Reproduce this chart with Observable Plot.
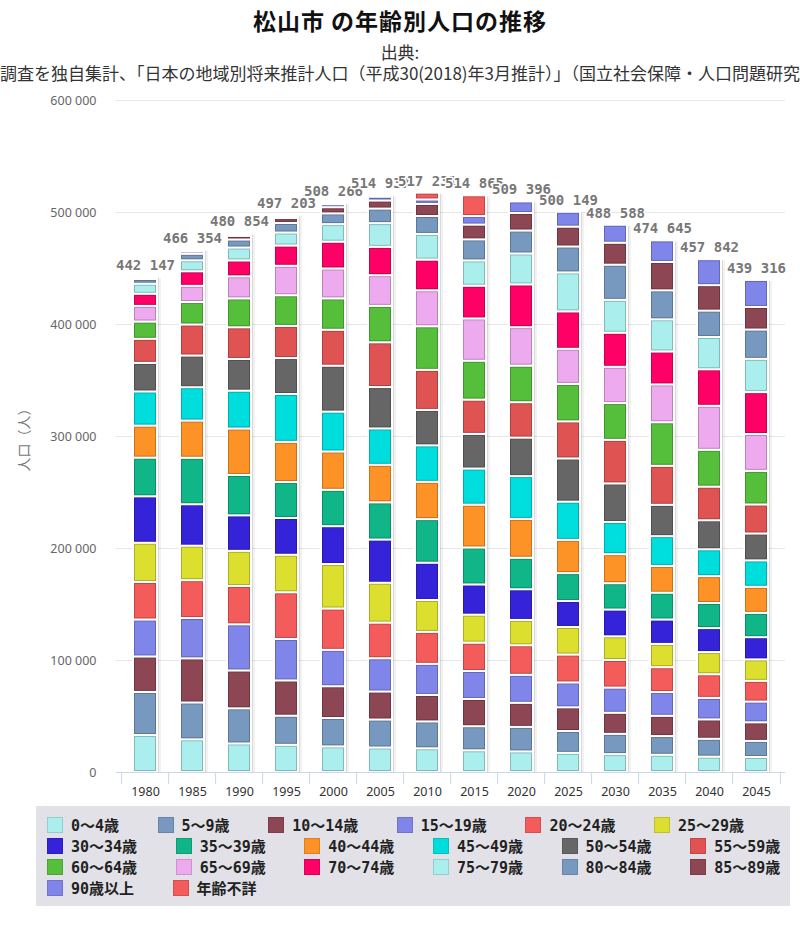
<!DOCTYPE html>
<html>
<head>
<meta charset="utf-8">
<script src="https://cdn.jsdelivr.net/npm/d3@7"></script>
<script src="https://cdn.jsdelivr.net/npm/@observablehq/plot@0.6"></script>
<style>
  body { margin: 0; width: 800px; height: 933px; overflow: hidden; background: #fff; position: relative;
         font-family: "Noto Sans CJK JP", "Noto Sans", sans-serif; }
  #title { position: absolute; left: 0; top: 0; width: 800px; height: 38px; line-height: 40px; text-align: center;
           font-size: 23px; font-weight: bold; color: #111; letter-spacing: 1px; }
  .subline { position: absolute; left: 0; width: 800px; height: 21px; line-height: 21px; display: flex;
             justify-content: center; white-space: nowrap; font-size: 17px; color: #333; overflow: visible; }
  #chart { position: absolute; left: 0; top: 90px; }
  #legend { position: absolute; left: 36px; top: 806px; width: 754px; height: 100px; background: #e1e1e7;
            box-sizing: border-box; padding: 8px 0 0 11px; }
  .row { display: flex; height: 21px; align-items: center; }
  .item { display: flex; align-items: center; margin-right: 38.5px; font-size: 15px; font-weight: bold; color: #222;
          font-family: "DejaVu Sans Mono", "Noto Sans CJK JP", sans-serif; white-space: nowrap; }
  .sw { width: 16px; height: 16px; box-sizing: border-box; border: 1px solid; margin-right: 8px; }
</style>
</head>
<body>
<div id="title">松山市 の年齢別人口の推移</div>
<div class="subline" style="top:41px"><span>出典:</span></div>
<div class="subline" style="top:62px"><span>国勢調査を独自集計、「日本の地域別将来推計人口（平成30(2018)年3月推計）」（国立社会保障・人口問題研究所）</span></div>
<div id="chart"></div>
<div id="legend"></div>
<script>
const years = ["1980","1985","1990","1995","2000","2005","2010","2015","2020","2025","2030","2035","2040","2045"];
const ageGroups = ["0〜4歳","5〜9歳","10〜14歳","15〜19歳","20〜24歳","25〜29歳","30〜34歳","35〜39歳","40〜44歳","45〜49歳",
  "50〜54歳","55〜59歳","60〜64歳","65〜69歳","70〜74歳","75〜79歳","80〜84歳","85〜89歳","90歳以上","年齢不詳"];
const colors = ["#aaeeee","#7798bf","#8d4654","#8085e9","#f45b5b","#dddf2e","#3523d9","#10b588","#fd9226","#00dddd",
  "#666666","#df5353","#55bf3b","#eeaaee","#ff0066","#aaeeee","#7798bf","#8d4654","#8085e9","#f45b5b"];
const totals = [442147,466354,480854,497203,508266,514937,517231,514865,509396,500149,488588,474645,457842,439316];
const yTicks = [0,100000,200000,300000,400000,500000,600000];

const v1980 = [33000,38500,31700,33000,33500,35000,41500,34500,28600,30500,25500,21500,15400,14000,10800,9000,4200,1500,400,47];
const v1985 = [29200,32900,39400,36000,33800,30800,37000,41500,33200,29800,28300,27700,20000,14500,13000,9800,5800,2200,700,754];
const v1990 = [25500,31400,33800,41200,34200,31400,31700,36000,41500,33800,28300,28300,25800,19700,14200,11500,7200,3200,1000,1154];
const v1995 = [24300,26000,31500,37000,41700,33500,32800,32100,35900,42700,32100,28700,27400,26300,18100,11600,8500,4400,1500,1103];
const v2000 = [22900,25300,28400,32500,36900,39700,33800,32500,34200,35600,41000,32100,28000,26700,23900,15700,9600,5500,2700,1266];
const v2005 = [21900,25000,25000,29700,31800,35600,38600,33200,33500,32500,36900,40000,32500,27400,25300,21200,13000,7200,3400,1237];
const v2010 = [21200,24000,23600,27800,28500,28500,33300,38900,33300,32600,31600,35800,38900,32131,27400,22900,16000,10800,4000,6000];
const v2015 = [19400,21500,24300,25000,25300,25000,27000,33000,38200,32300,30900,30600,34700,37800,29200,22600,18800,13200,7600,18465];
const v2020 = [18400,21900,21500,25000,26400,22600,27400,28100,34700,38200,34400,31600,32600,34400,38200,27600,20500,15600,10296,0];
const v2025 = [17100,19500,21200,22200,24900,24600,23200,24900,29700,34100,38600,33100,33400,31400,33400,34800,23149,17700,13200,0];
const v2030 = [16000,18100,18800,22500,24600,21200,23900,23500,25900,28700,34500,38900,32800,32400,30400,29400,31400,19588,16000,0];
const v2035 = [15400,16700,18100,21200,22200,20800,21800,23900,23900,26600,28000,34800,38900,33800,29400,28700,25900,25300,19245,0];
const v2040 = [13700,16000,17300,19200,21100,19800,21400,22400,24000,24000,25900,30000,32900,39300,32600,28800,23600,22700,23142,0];
const v2045 = [13400,14400,16600,18500,18500,19200,19800,21700,23300,23600,24000,25900,30000,32900,37400,29700,26200,20100,24116,0];
const yearValues = [v1980,v1985,v1990,v1995,v2000,v2005,v2010,v2015,v2020,v2025,v2030,v2035,v2040,v2045];

const rows = years.flatMap((yr, i) => ageGroups.map((a, j) => ({year: yr, age: a, value: yearValues[i][j]})))
  .filter(d => d.value > 0);

const fmt = d => d3.format(",")(d).replace(/,/g, " ");
const mL = 116, mR = 15, W = 800;
const step = (W - mL - mR) / years.length;

const plot = Plot.plot({
  width: W, height: 712,
  marginTop: 10, marginBottom: 30, marginLeft: mL, marginRight: mR,
  x: {type: "band", domain: years, paddingInner: 0.5, paddingOuter: 0.25, label: null},
  y: {domain: [0, 600000], label: null},
  color: {domain: ageGroups, range: colors},
  style: {fontFamily: "'Noto Sans', sans-serif", background: "white", overflow: "visible"},
  marks: [
    Plot.gridY(yTicks, {stroke: "#e6e6e6", strokeOpacity: 1}),
    Plot.barY(years, {x: d => d, y: (d, i) => totals[i], dx: 4, dy: 1, fill: "#000", fillOpacity: 0.05}),
    Plot.barY(years, {x: d => d, y: (d, i) => totals[i], dx: 2, dy: 1, fill: "#000", fillOpacity: 0.1}),
    Plot.barY(rows, {x: "year", y: "value", z: "age", fill: "age", stroke: "white", strokeWidth: 2}),
    Plot.barY(rows, {x: "year", y: "value", z: "age", fill: "none", stroke: "#000", strokeOpacity: 0.22, strokeWidth: 1, inset: 1.5}),
    Plot.ruleY([0], {stroke: "#ccd6eb"}),
    Plot.axisX({tickSize: 0, tickPadding: 15, fontSize: 12.5, fill: "#333"}),
    Plot.axisX(years, {tickSize: 12, text: null, dx: -step / 2, stroke: "#ccd6eb"}),
    Plot.axisX([years[years.length - 1]], {tickSize: 12, text: null, dx: step / 2, stroke: "#ccd6eb"}),
    Plot.axisY(yTicks, {tickSize: 0, tickPadding: 20, tickFormat: fmt, fill: "#666", fontSize: 12.5, label: null}),
    Plot.axisY([], {label: "人口（人）", labelAnchor: "center", labelArrow: "none", labelOffset: 97, fontSize: 14, fill: "#777",
      fontFamily: "'Noto Sans CJK JP', sans-serif"}),
    Plot.text(years, {x: d => d, y: (d, i) => totals[i], text: (d, i) => fmt(totals[i]), dy: -12,
      fontFamily: "'DejaVu Sans Mono', monospace", fontWeight: "bold", fontSize: 14, fill: "#777",
      stroke: "white", strokeWidth: 3})
  ]
});
document.getElementById("chart").appendChild(plot);

// legend
const legend = document.getElementById("legend");
const perRow = 6;
for (let r = 0; r * perRow < ageGroups.length; r++) {
  const row = document.createElement("div");
  row.className = "row";
  ageGroups.slice(r * perRow, (r + 1) * perRow).forEach((a, k) => {
    const c = colors[r * perRow + k];
    const item = document.createElement("div");
    item.className = "item";
    const sw = document.createElement("span");
    sw.className = "sw";
    sw.style.background = c;
    sw.style.borderColor = d3.color(c).darker(0.4).formatHex();
    item.appendChild(sw);
    const t = document.createElement("span");
    t.textContent = a;
    item.appendChild(t);
    row.appendChild(item);
  });
  legend.appendChild(row);
}
</script>
</body>
</html>
